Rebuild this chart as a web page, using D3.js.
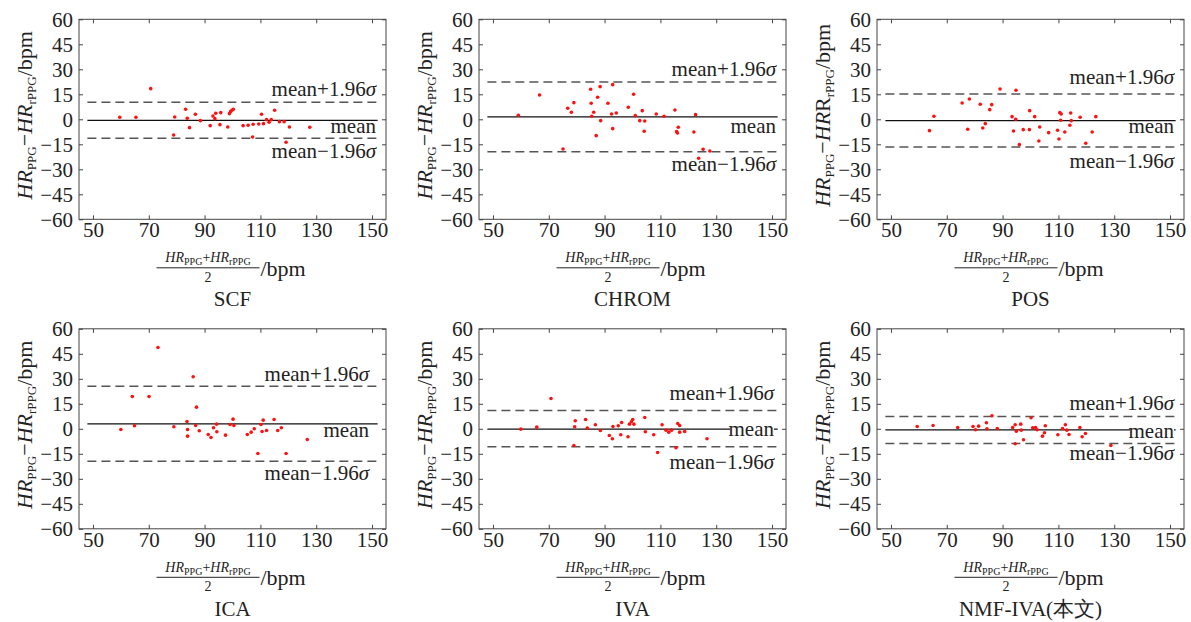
<!DOCTYPE html>
<html>
<head>
<meta charset="utf-8">
<script src="https://cdn.jsdelivr.net/npm/d3@7/dist/d3.min.js"></script>
<style>
    body { margin: 0; background: #fff; }
    svg { font-family: "Liberation Serif", "Times New Roman", serif; }
</style>
</head>
<body>
<div id="chart"></div>
<script>
// ---- values ----
const methods = ["SCF", "CHROM", "POS", "ICA", "IVA", "NMF-IVA(本文)"];
const xTicks = [50, 70, 90, 110, 130, 150];
const yTicks = [-60, -45, -30, -15, 0, 15, 30, 45, 60];

// bias line and limits of agreement (mean, mean+1.96σ, mean-1.96σ)
const biasVals  = [-0.6, 1.4, -0.8, 3.0, -0.2, -0.6];
const upperVals = [10.2, 22.4, 15.2, 25.6, 11.0, 7.4];
const lowerVals = [-11.4, -19.4, -16.6, -19.4, -10.8, -8.8];

const scfAvg  = [59.6, 65.4, 70.7, 79.3, 78.9, 83.2, 83.8, 84.6, 86.7, 88.5, 92.0, 93.0, 93.7, 94.0, 95.8, 95.5, 98.3, 98.9, 99.3, 99.8, 100.3, 103.8, 105.6, 107.4, 109.4, 110.4, 111.1, 112.2, 113.1, 113.9, 115.1, 116.8, 118.5, 119.2, 120.4, 127.7, 107.2];
const scfDiff = [1.2, 1.2, 18.4, 1.4, -9.4, 6.0, 0.6, -5.0, 3.0, -0.8, -3.8, 2.0, 0.4, 3.6, 4.0, -3.2, -4.6, 3.4, 4.6, 5.4, 6.0, -3.8, -3.6, -3.0, -2.8, 3.0, -2.6, -0.2, -1.8, -0.2, 5.4, -1.4, -1.4, -13.8, -4.6, -4.8, -10.6];

const chromAvg  = [59.1, 66.7, 75.1, 76.8, 78.1, 79.0, 85.0, 85.2, 85.4, 86.1, 87.0, 87.5, 88.4, 88.6, 91.2, 92.5, 92.9, 92.9, 94.2, 98.5, 100.4, 101.0, 102.6, 103.5, 104.4, 104.2, 108.5, 111.3, 115.2, 115.8, 116.1, 116.4, 122.0, 122.6, 123.7, 125.3, 127.7];
const chromDiff = [2.4, 14.6, -17.8, 6.6, 4.2, 10.0, 18.0, 9.6, 1.8, 4.2, -9.8, 13.2, 19.6, -0.8, 9.6, 3.2, 20.8, -5.6, 3.8, 7.2, 15.0, 2.2, -0.8, 5.2, -1.0, -7.2, 3.2, 1.8, 5.6, -7.4, -8.2, -4.8, -7.6, 2.8, -23.4, -18.0, -19.0];

const posAvg  = [63.8, 65.4, 75.5, 78.1, 77.5, 82.0, 82.9, 83.8, 85.4, 86.1, 89.1, 93.4, 93.9, 94.7, 94.8, 96.0, 97.4, 99.6, 99.7, 101.5, 103.0, 103.3, 106.5, 109.7, 110.2, 110.5, 110.8, 111.0, 112.3, 114.1, 114.4, 114.6, 117.8, 119.8, 122.1, 123.4];
const posDiff = [-6.8, 1.8, 9.8, 12.2, -6.0, 9.0, -5.2, -2.6, 5.8, 8.8, 18.2, 1.6, -7.0, 0.0, 17.4, -15.2, -6.2, -6.2, 5.2, 1.6, -13.0, -4.6, -8.0, -6.6, -11.8, 4.0, -0.6, 3.2, -7.6, -3.6, 3.8, -0.8, 1.2, -14.4, -7.6, 1.6];

const icaAvg  = [60.0, 64.1, 64.9, 70.1, 73.3, 79.0, 83.7, 83.9, 83.9, 85.9, 86.8, 87.1, 88.1, 91.3, 92.3, 93.2, 94.3, 94.4, 97.5, 99.1, 100.2, 100.5, 105.3, 106.7, 107.8, 109.1, 110.2, 110.6, 111.0, 112.2, 114.9, 116.2, 117.5, 119.2, 126.8];
const icaDiff = [-0.4, 19.4, 1.8, 19.4, 48.8, 1.2, 4.4, -0.4, -4.4, 31.2, 2.0, 13.0, -1.2, -3.4, -5.2, 0.6, 2.8, -1.8, -3.8, 2.6, 5.8, 2.0, -3.4, -2.0, 0.0, -14.8, 2.6, -1.6, 5.2, -1.0, 5.6, -1.0, 0.6, -14.8, -6.4];

const ivaAvg  = [60.0, 65.7, 70.8, 79.0, 79.3, 79.5, 83.2, 83.8, 86.7, 88.5, 91.7, 92.8, 93.0, 94.9, 95.8, 96.1, 98.4, 98.9, 99.6, 100.1, 100.5, 104.4, 104.6, 107.6, 109.0, 110.6, 112.0, 113.0, 114.0, 115.6, 116.2, 116.9, 116.9, 118.7, 126.7];
const ivaDiff = [-0.2, 1.0, 18.2, -10.0, 1.2, 4.8, 5.6, 0.4, 2.4, -1.0, -4.0, -6.0, 1.4, 1.8, -3.6, 3.8, -4.8, 2.8, 4.2, 5.6, 2.8, 6.8, -1.8, -3.6, -14.2, 2.4, -0.8, -2.0, -0.8, -11.4, 3.2, 2.0, -2.0, -1.6, -6.0];

const nmfAvg  = [59.4, 65.1, 73.9, 79.4, 80.3, 81.4, 84.2, 84.4, 86.2, 88.1, 93.6, 94.5, 94.9, 96.5, 96.7, 97.5, 94.5, 100.2, 100.8, 101.8, 102.4, 104.3, 105.0, 105.3, 109.8, 111.5, 112.5, 113.0, 113.8, 117.7, 118.5, 119.7, 128.8];
const nmfDiff = [1.4, 2.0, 0.8, 1.4, -0.6, 1.6, 3.6, 0.0, 7.8, 0.2, 0.8, 2.4, -1.4, 2.8, -0.8, -6.6, -9.0, 6.6, 0.6, 0.8, -0.6, -4.4, -2.4, 1.8, -3.6, 0.2, 2.4, -0.8, -3.4, 0.8, -4.8, -2.8, -10.0];

const avgSets  = [scfAvg, chromAvg, posAvg, icaAvg, ivaAvg, nmfAvg];
const diffSets = [scfDiff, chromDiff, posDiff, icaDiff, ivaDiff, nmfDiff];

// ---- layout ----
const colLeft = [79, 479, 877];
const rowTop = [19.3, 328.8];
const plotW = 307, plotH = 200;

// label placement tweaks (px), one per panel
const upDy    = [-6.6, -6, -10, -5.4, -10, -6];
const meanDy  = [13, 16, 12.6, 13.7, 7.3, 8];
const lowDy   = [19.4, 19, 21, 19, 22, 17];
const textRight = [297, 297, 297, 290, 295, 297];
const meanBoxed = [false, false, false, false, true, true];

const svg = d3.select("#chart").append("svg")
    .attr("width", 1191)
    .attr("height", 622);

const x = d3.scaleLinear().domain([45, 155]).range([0, plotW]);
const y = d3.scaleLinear().domain([-60, 60]).range([plotH, 0]);

methods.forEach((name, i) => {
    let left = colLeft[i % 3], top = rowTop[Math.floor(i / 3)];
    let g = svg.append("g").attr("transform", `translate(${left}, ${top})`);

    // axes with inward ticks on all four sides
    let xAxis = g.append("g").attr("transform", `translate(0, ${plotH})`)
        .call(d3.axisBottom(x).tickValues(xTicks).tickSize(-4).tickPadding(3));
    g.append("g")
        .call(d3.axisTop(x).tickValues(xTicks).tickSize(-4).tickFormat(""));
    let yAxis = g.append("g")
        .call(d3.axisLeft(y).tickValues(yTicks).tickSize(-4).tickPadding(6));
    g.append("g").attr("transform", `translate(${plotW}, 0)`)
        .call(d3.axisRight(y).tickValues(yTicks).tickSize(-4).tickFormat(""));

    g.selectAll(".domain").remove();
    g.selectAll(".tick line").attr("stroke", "#444");
    g.selectAll(".tick text")
        .attr("fill", "#222")
        .style("font-size", "21px")
        .style("font-family", "Liberation Serif, serif");

    g.append("rect")
        .attr("width", plotW).attr("height", plotH)
        .attr("fill", "none").attr("stroke", "#444").attr("stroke-width", 1);

    // bias + limits
    let x0 = x(48), x1 = x(152);
    [upperVals[i], lowerVals[i]].forEach(v => {
        g.append("line")
            .attr("x1", x0).attr("x2", x1)
            .attr("y1", y(v)).attr("y2", y(v))
            .attr("stroke", "#555").attr("stroke-width", 1.5)
            .attr("stroke-dasharray", "9,5");
    });
    g.append("line")
        .attr("x1", x0).attr("x2", x1)
        .attr("y1", y(biasVals[i])).attr("y2", y(biasVals[i]))
        .attr("stroke", "#111").attr("stroke-width", 1.3);

    // points
    g.selectAll("circle")
        .data(avgSets[i].map((a, k) => ({avg: a, diff: diffSets[i][k]})))
        .enter().append("circle")
        .attr("cx", d => x(d.avg))
        .attr("cy", d => y(d.diff))
        .attr("r", 1.8)
        .attr("fill", "#ff1010");

    // line labels
    let tx = textRight[i];
    let addLabel = function(yy, parts) {
        let t = g.append("text")
            .attr("x", tx).attr("y", yy)
            .attr("text-anchor", "end")
            .style("font-size", "21px")
            .attr("fill", "#222");
        parts.forEach(p => t.append("tspan").style("font-style", p[1] ? "italic" : "normal").text(p[0]));
        return t;
    };
    addLabel(y(upperVals[i]) + upDy[i], [["mean+1.96", false], ["σ", true]]);
    addLabel(y(lowerVals[i]) + lowDy[i], [["mean\u22121.96", false], ["σ", true]]);
    let meanY = y(biasVals[i]) + meanDy[i];
    if (meanBoxed[i]) {
        g.append("rect")
            .attr("x", tx - 44).attr("y", meanY - 11)
            .attr("width", 44).attr("height", 13)
            .attr("fill", "#fff");
    }
    addLabel(meanY, [["mean", false]]);

    // y axis label
    let yl = g.append("text")
        .attr("transform", `translate(-47, ${plotH / 2 - 4}) rotate(-90)`)
        .attr("text-anchor", "middle")
        .style("font-size", "22px")
        .attr("fill", "#222");
    yl.append("tspan").style("font-style", "italic").text("HR");
    yl.append("tspan").attr("dy", 4).style("font-size", "13px").text("PPG");
    yl.append("tspan").attr("dy", -4).text("\u2212");
    yl.append("tspan").style("font-style", "italic").text("HR");
    if (name === "POS") yl.append("tspan").text("R");
    yl.append("tspan").attr("dy", 4).style("font-size", "13px").text("rPPG");
    yl.append("tspan").attr("dy", -4).text("/bpm");

    // x axis label as a fraction
    let cx = plotW / 2, fracL = cx - 76, fracR = cx + 27, fracC = (fracL + fracR) / 2;
    let num = g.append("text")
        .attr("x", fracC).attr("y", plotH + 43)
        .attr("text-anchor", "middle")
        .style("font-size", "14px")
        .attr("fill", "#222");
    num.append("tspan").style("font-style", "italic").text("HR");
    num.append("tspan").attr("dy", 3).style("font-size", "10px").text("PPG");
    num.append("tspan").attr("dy", -3).text("+");
    num.append("tspan").style("font-style", "italic").text("HR");
    num.append("tspan").attr("dy", 3).style("font-size", "10px").text("rPPG");
    g.append("line")
        .attr("x1", fracL).attr("x2", fracR)
        .attr("y1", plotH + 48.5).attr("y2", plotH + 48.5)
        .attr("stroke", "#222").attr("stroke-width", 1);
    g.append("text")
        .attr("x", fracC).attr("y", plotH + 62.5)
        .attr("text-anchor", "middle")
        .style("font-size", "14px")
        .attr("fill", "#222")
        .text("2");
    g.append("text")
        .attr("x", fracR + 1).attr("y", plotH + 56.5)
        .style("font-size", "22px")
        .attr("fill", "#222")
        .text("/bpm");

    // method title
    g.append("text")
        .attr("x", cx).attr("y", plotH + 87)
        .attr("text-anchor", "middle")
        .style("font-size", "21px")
        .attr("fill", "#222")
        .text(name);
});
</script>
</body>
</html>
